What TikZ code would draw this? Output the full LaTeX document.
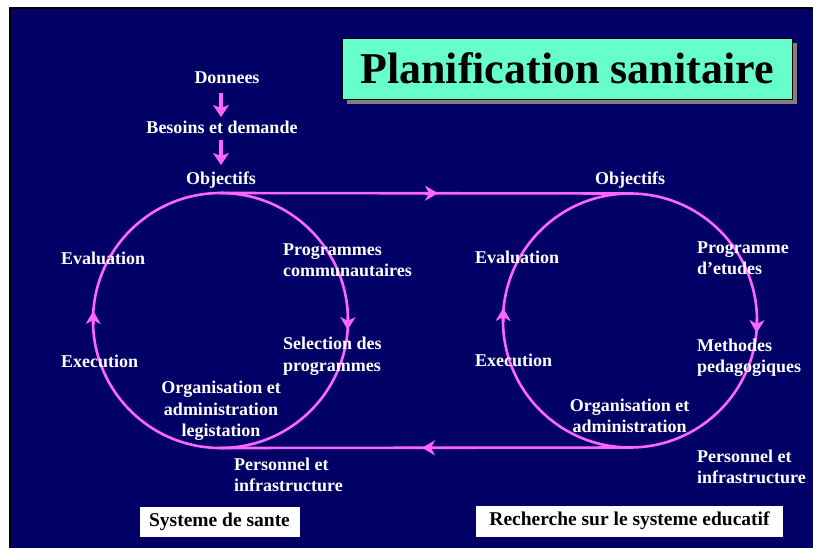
\documentclass[tikz,border=0pt]{standalone}
\usepackage{fontspec}
\setmainfont{Liberation Serif}
\usetikzlibrary{arrows.meta}
\definecolor{navy}{RGB}{0,0,102}
\definecolor{pinkl}{RGB}{255,102,255}
\definecolor{aqua}{RGB}{102,255,204}
\definecolor{shadowgray}{RGB}{128,128,128}
\tikzset{
  lbl/.style={text=white,font=\bfseries\fontsize{18}{21.5}\selectfont,inner sep=0pt},
  lbll/.style={lbl,align=left,anchor=west},
  lblc/.style={lbl,align=center},
  loop/.style={draw=pinkl,line width=2.6pt},
  headtip/.style={-{Stealth[length=13pt,width=15pt,inset=4pt]}},
  flowarrow/.style={draw=pinkl,line width=3.2pt,-{Stealth[length=12pt,width=16pt,inset=3pt]}},
  capbox/.style={fill=white,text=black,font=\bfseries\fontsize{19.5}{22}\selectfont,inner sep=0pt}
}
\begin{document}
\begin{tikzpicture}[x=1pt,y=-1pt]
\useasboundingbox (0,0) rectangle (813,547);
\clip (0,0) rectangle (813,547);
\fill[white] (0,0) rectangle (813,547);
\fill[navy,draw=black,line width=2pt] (10,8) rectangle (830,560);

% title
\fill[shadowgray] (347,43) rectangle (797,104);
\node[draw=black,line width=0.8pt,fill=aqua,minimum width=450pt,minimum height=61pt,inner sep=0pt,
  font=\bfseries\fontsize{44}{48}\selectfont] (title) at (567,68.5) {Planification sanitaire};

% top labels
\node[lblc] (don) at (227,78) {Donnees};
\node[lblc] (bes) at (222,127) {Besoins et demande};
\node[lblc] (obj1) at (221,180) {Objectifs};
\coordinate (d1) at (221,93);
\coordinate (d2) at (221,117);
\coordinate (b1) at (221,140);
\coordinate (b2) at (221,165);
\draw[flowarrow] (d1) -- (d2);
\draw[flowarrow] (b1) -- (b2);

% circles
\coordinate (c1) at (220.5,320.5);
\coordinate (c2) at (630,320.5);
\draw[loop] (c1) circle[radius=127.5];
\draw[loop] (c2) circle[radius=127];
\coordinate (t1) at (220.5,193);
\coordinate (t2) at (630,193.5);
\coordinate (u1) at (220.5,448);
\coordinate (u2) at (630,447.5);
\draw[loop] (t1) -- (t2);
\draw[loop] (u2) -- (u1);
% mid arrows on lines
\coordinate (ta) at (425,193.2);
\coordinate (tb) at (438,193.2);
\draw[loop,headtip] (ta) -- (tb);
\coordinate (ua) at (435,447.8);
\coordinate (ub) at (422,447.8);
\draw[loop,headtip] (ua) -- (ub);
% arrows on circles
\coordinate (a1s) at (347.9,316);
\coordinate (a1e) at (347.6,330);
\draw[loop,headtip] (a1s) -- (a1e);
\coordinate (a2s) at (93.2,325);
\coordinate (a2e) at (93.3,311);
\draw[loop,headtip] (a2s) -- (a2e);
\coordinate (a3s) at (756.9,319);
\coordinate (a3e) at (756.6,333);
\draw[loop,headtip] (a3s) -- (a3e);
\coordinate (a4s) at (503.2,322);
\coordinate (a4e) at (503.3,308);
\draw[loop,headtip] (a4s) -- (a4e);

% left loop labels
\node[lbll] (ev1) at (61,258) {Evaluation};
\node[lbll] (pc1) at (283,260) {Programmes\\communautaires};
\node[lbll] (sp1) at (283,356) {Selection des\\programmes};
\node[lbll] (ex1) at (61,361) {Execution};
\node[lblc] (or1) at (221,411) {Organisation et\\administration\\legistation};
\node[lbll] (pe1) at (234,475) {Personnel et\\infrastructure};

% right loop labels
\node[lblc] (obj2) at (630,180) {Objectifs};
\node[lbll] (ev2) at (475,257) {Evaluation};
\node[lbll] (pr2) at (697,258) {Programme\\d’etudes};
\node[lbll] (me2) at (697,357.5) {Methodes\\pedagogiques};
\node[lbll] (ex2) at (475,360) {Execution};
\node[lblc] (or2) at (629.5,416) {Organisation et\\administration};
\node[lbll] (pe2) at (697,467) {Personnel et\\infrastructure};

% bottom captions
\node[capbox,minimum width=160pt,minimum height=30pt] (cap1) at (219.5,521.5) {Systeme de sante};
\node[capbox,minimum width=307pt,minimum height=31pt] (cap2) at (629.5,521) {Recherche sur le systeme educatif};
\end{tikzpicture}
\end{document}
